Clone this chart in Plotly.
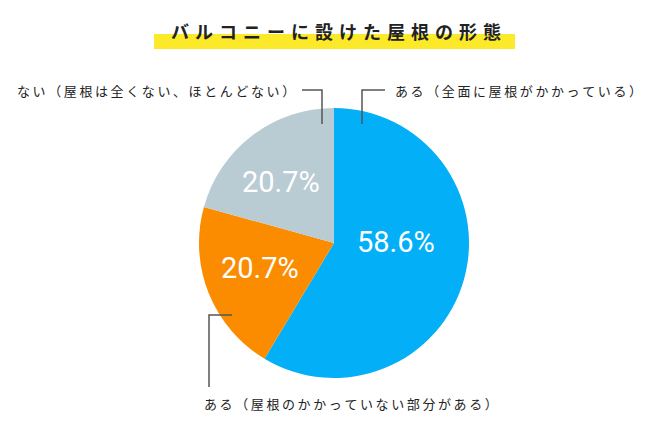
import plotly.graph_objects as go

W, H = 670, 440

# data
labels = ['ある（全面に屋根がかかっている）',
          'ある（屋根のかかっていない部分がある）',
          'ない（屋根は全くない、ほとんどない）']
values = [58.6, 20.7, 20.7]
colors = ['#03aff7', '#fb8c00', '#b9cbd3']
title = 'バルコニーに設けた屋根の形態'

JP = '"Noto Sans CJK JP", "Noto Sans", sans-serif'
NUM = 'Roboto, "Noto Sans", sans-serif'

# page body has an 8px margin, so screen px -> paper coords
OFF = 8


def px(x):
    return (x - OFF) / W


def py(y):
    return 1 - (y - OFF) / H


def spaced(s, sp='\u2009'):
    # fake letter-spacing
    return sp.join(s)


cx, cy, r = 334, 243, 135

fig = go.Figure(go.Pie(
    labels=labels,
    values=values,
    sort=False,
    direction='clockwise',
    rotation=0,
    marker=dict(colors=colors, line=dict(width=0)),
    textinfo='none',
    hoverinfo='label+percent',
    showlegend=False,
    domain=dict(x=[px(cx - r), px(cx + r)], y=[py(cy + r), py(cy - r)]),
))

line_style = dict(color='#555555', width=1.5)
shapes = [
    # yellow highlight under title
    dict(type='rect', xref='paper', yref='paper', x0=px(154), x1=px(515),
         y0=py(49), y1=py(34), fillcolor='#fce92a', line=dict(width=0), layer='below'),
    # leader: ない
    dict(type='path', xref='paper', yref='paper',
         path=f'M {px(302)} {py(90)} L {px(322)} {py(90)} L {px(322)} {py(124)}',
         line=line_style),
    # leader: ある（全面）
    dict(type='path', xref='paper', yref='paper',
         path=f'M {px(385)} {py(90)} L {px(362)} {py(90)} L {px(362)} {py(124)}',
         line=line_style),
    # leader: ある（部分）
    dict(type='path', xref='paper', yref='paper',
         path=f'M {px(232)} {py(315)} L {px(209)} {py(315)} L {px(209)} {py(387)}',
         line=line_style),
]

# percentage labels inside the slices (blue, orange, gray)
pct_pos = [(396, 242), (260, 268), (281, 182)]

annotations = [
    dict(text=f'<b>{spaced(title, chr(0x2004))}</b>', x=px(336), y=py(31),
         font=dict(family=JP, size=18, color='#222222')),
    dict(text=spaced(labels[2]), x=px(297), y=py(90), xanchor='right',
         font=dict(family=JP, size=13, color='#222222')),
    dict(text=spaced(labels[0]), x=px(393), y=py(90), xanchor='left',
         font=dict(family=JP, size=13, color='#222222')),
    dict(text=spaced(labels[1]), x=px(202), y=py(403), xanchor='left',
         font=dict(family=JP, size=13, color='#222222')),
]
for v, (x, y) in zip(values, pct_pos):
    annotations.append(dict(text=f'{v:.1f}%', x=px(x), y=py(y),
                            font=dict(family=NUM, size=29, color='white')))

for a in annotations:
    a.update(xref='paper', yref='paper', showarrow=False, yanchor='middle')
    a.setdefault('xanchor', 'center')

fig.update_layout(
    width=W, height=H,
    margin=dict(l=0, r=0, t=0, b=0),
    paper_bgcolor='white',
    plot_bgcolor='white',
    shapes=shapes,
    annotations=annotations,
)

fig.write_html("out.html")
